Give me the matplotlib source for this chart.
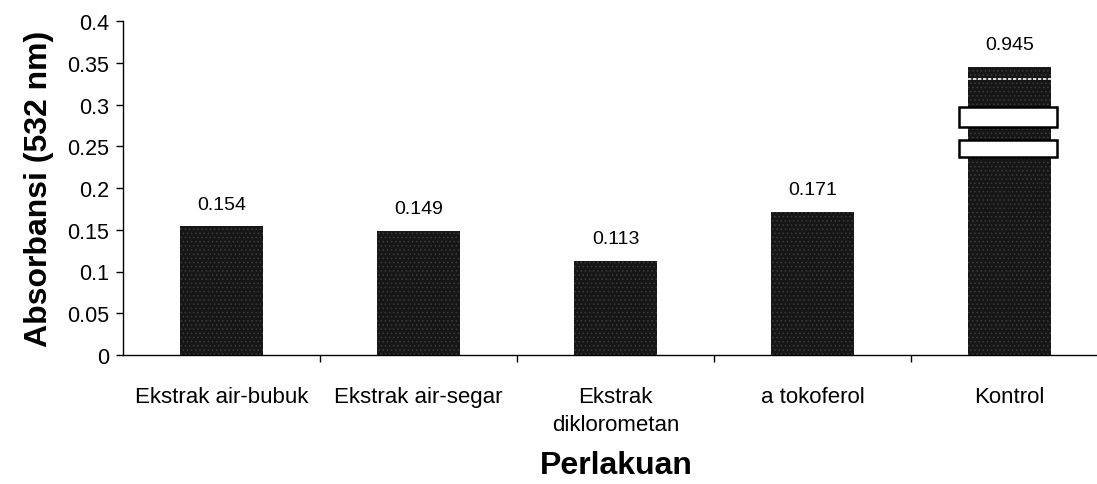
"""
Absorbansi (532 nm) per perlakuan - bar chart with a broken Kontrol bar
"""

import matplotlib
matplotlib.use("Agg")
import matplotlib.pyplot as plt
import matplotlib.patches as mpatches
import numpy as np

# ==============================================================================
# data
# ==============================================================================
CATEGORIES = ["Ekstrak air-bubuk", "Ekstrak air-segar", "Ekstrak\ndiklorometan",
              "a tokoferol", "Kontrol"]
VALUES = [0.154, 0.149, 0.113, 0.171, 0.945]
VALUE_LABELS = ["0.154", "0.149", "0.113", "0.171", "0.945"]
YTICKS = [0, 0.05, 0.1, 0.15, 0.2, 0.25, 0.3, 0.35, 0.4]
YTICK_LABELS = ["0", "0.05", "0.1", "0.15", "0.2", "0.25", "0.3", "0.35", "0.4"]

# ==============================================================================
# style / layout
# ==============================================================================
FIG_W, FIG_H, DPI = 10.97, 4.85, 100
FONT = ["Liberation Sans", "Arial", "DejaVu Sans"]
BAR_COLOR = "#161616"
HATCH_COLOR = "#3c3c3c"
BAR_WIDTH = 0.42
BREAK_TOP = 0.345          # where the Kontrol bar is cut off on screen
BREAKS = [(0.237, 0.2575), (0.273, 0.297)]   # white break bands (y0, y1)
Y_MAX = 0.4


def setup_style():
    plt.rcParams["font.family"] = FONT
    plt.rcParams["hatch.color"] = HATCH_COLOR
    plt.rcParams["hatch.linewidth"] = 0.6


def plot_figure():
    fig = plt.figure(figsize=(FIG_W, FIG_H), dpi=DPI)
    ax = fig.add_axes([123 / 1097, 1 - 356 / 485, 974 / 1097, 334 / 485])

    x = np.arange(len(CATEGORIES))
    shown = [min(v, BREAK_TOP) for v in VALUES]

    ax.bar(x, shown, width=BAR_WIDTH, color=BAR_COLOR, edgecolor=HATCH_COLOR,
           linewidth=0, hatch="....", zorder=2)

    # value labels above bars
    for xi, h, lab in zip(x, shown, VALUE_LABELS):
        ax.annotate(lab, (xi, h), xytext=(0, 10), textcoords="offset points",
                    ha="center", va="bottom", fontsize=14)

    # break marks on the Kontrol bar (value off the scale)
    for xi, v in zip(x, VALUES):
        if v <= BREAK_TOP:
            continue
        for y0, y1 in BREAKS:
            ax.add_patch(mpatches.Rectangle((xi - 0.256, y0), 0.497, y1 - y0,
                                            facecolor="white", edgecolor="black",
                                            linewidth=1.8, zorder=3))
        ax.plot([xi - BAR_WIDTH / 2, xi + BAR_WIDTH / 2], [0.331, 0.331],
                color="white", lw=1.2, ls=(0, (2, 1)), zorder=3)

    ax.set_xlim(-0.5, -0.5 + 974 / 197)
    ax.set_ylim(0, Y_MAX)

    ax.set_yticks(YTICKS)
    ax.set_yticklabels(YTICK_LABELS, fontsize=15.5)
    ax.set_xticks(x)
    ax.set_xticklabels(CATEGORIES, fontsize=16, linespacing=1.45)
    ax.set_xticks(x[:-1] + 0.5, minor=True)

    ax.tick_params(axis="y", direction="out", length=5, width=1, pad=5)
    ax.tick_params(axis="x", which="major", length=0, pad=22)
    ax.tick_params(axis="x", which="minor", direction="out", length=5, width=1)

    for side in ("top", "right"):
        ax.spines[side].set_visible(False)
    for side in ("left", "bottom"):
        ax.spines[side].set_linewidth(1.0)

    ax.set_ylabel("Absorbansi (532 nm)", fontsize=23, fontweight="bold", labelpad=9)
    fig.text(616 / 1097, 1 - 466 / 485, "Perlakuan", fontsize=23,
             fontweight="bold", ha="center", va="center")

    fig.savefig("out.png", dpi=DPI)
    plt.close(fig)


def main():
    setup_style()
    plot_figure()


if __name__ == "__main__":
    main()
